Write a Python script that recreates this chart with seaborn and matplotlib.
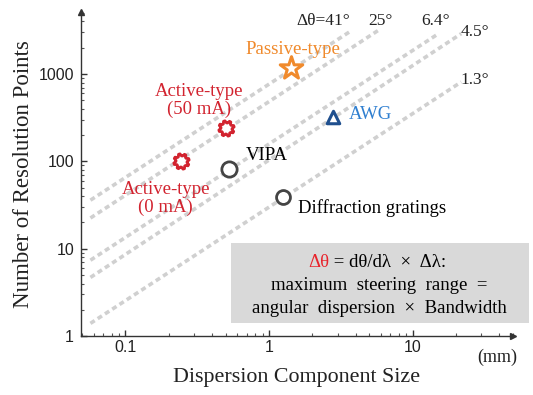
import numpy as np
import matplotlib
matplotlib.use("Agg")
import matplotlib.pyplot as plt
import seaborn as sns
import pandas as pd
from matplotlib.path import Path
from matplotlib.ticker import FixedLocator, LogLocator, NullFormatter

# ---- data ----
line_labels = ["Δθ=41°", "25°", "6.4°", "4.5°", "1.3°"]
line_x0 = [0.057, 0.057, 0.057, 0.057, 0.057]
line_y0 = [36.0, 22.5, 7.4, 4.7, 1.4]
line_x1 = [3.7, 6.0, 15.0, 21.8, 21.8]
line_y1 = [3100, 3300, 2870, 2900, 811]

pt_names = ["Active-type (0 mA)", "Active-type (50 mA)", "VIPA", "Diffraction gratings",
            "Passive-type", "AWG"]
pt_x = [0.244, 0.50, 0.526, 1.25, 1.42, 2.79]
pt_y = [100, 241, 82, 39, 1175, 323]

x_ticks = [0.1, 1, 10]
x_tick_labels = ["0.1", "1", "10"]
y_ticks = [1, 10, 100, 1000]
y_tick_labels = ["1", "10", "100", "1000"]

# ---- style ----
sns.set_theme(style="white")
plt.rcParams['font.family'] = ['Liberation Serif', 'DejaVu Serif']

fig = plt.figure(figsize=(5.33, 3.95), dpi=100)
ax = fig.add_axes([0.152, 0.149, 0.8105, 0.821])
ax.set_xscale('log')
ax.set_yscale('log')

# dashed guide lines
for x0, y0, x1, y1 in zip(line_x0, line_y0, line_x1, line_y1):
    df = pd.DataFrame({"x": [x0, x1], "y": [y0, y1]})
    sns.lineplot(data=df, x="x", y="y", ax=ax, color="#d0d0d0", lw=2.6, legend=False)
for l in ax.lines:
    l.set_dashes((1.4, 1.0))
    l.set_dash_capstyle('butt')

# gear marker
ang = np.linspace(0, 2 * np.pi, 33)[:-1]
rad = np.where(np.arange(32) % 4 < 2, 1.0, 0.72)
verts = np.column_stack([rad * np.cos(ang + np.pi / 16), rad * np.sin(ang + np.pi / 16)])
verts = np.vstack([verts, verts[0]])
gear = Path(verts, [Path.MOVETO] + [Path.LINETO] * 31 + [Path.CLOSEPOLY])

red = "#d2232f"
orange = "#f08a2c"
dark = "#444444"
navy = "#1f4f8e"
blue = "#2f7fd0"

styles = [
    (gear, red, 11, 2.0),
    (gear, red, 11, 2.0),
    ("o", dark, 11, 2.0),
    ("o", dark, 10, 2.0),
    ("*", orange, 17, 2.2),
    ("^", navy, 9, 2.2),
]
for (m, c, s, lw), x, y in zip(styles, pt_x, pt_y):
    sns.scatterplot(x=[x], y=[y], ax=ax, marker=m, s=s ** 2, facecolor="white",
                    edgecolor=c, linewidth=lw, zorder=5, legend=False)

ax.set_xlim(0.049, 50)
ax.set_ylim(1, 5150)

# annotations
fs = 13.5
ax.text(0.325, 318, "Active-type\n(50 mA)", color=red, fontsize=fs, ha="center",
        va="bottom", linespacing=1.05)
ax.text(0.191, 59, "Active-type\n(0 mA)", color=red, fontsize=fs, ha="center",
        va="top", linespacing=1.05)
ax.text(0.69, 118, "VIPA", color="black", fontsize=fs, ha="left", va="center")
ax.text(1.58, 29, "Diffraction gratings", color="black", fontsize=fs, ha="left",
        va="center")
ax.text(1.47, 1890, "Passive-type", color=orange, fontsize=fs, ha="center",
        va="center")
ax.text(3.61, 340, "AWG", color=blue, fontsize=fs, ha="left", va="center")

lab_pos = [(2.4, 4100, "center"), (6.0, 4100, "center"), (14.5, 4100, "center"),
           (21.5, 3000, "left"), (21.5, 850, "left")]
for lab, (x, y, ha) in zip(line_labels, lab_pos):
    ax.text(x, y, lab, color="#222222", fontsize=12.5, ha=ha, va="center")

# gray box
box_l, box_r, box_b, box_t = 0.543, 65, 1.41, 11.6
ax.add_patch(plt.Rectangle((box_l, box_b), box_r - box_l, box_t - box_b,
                           facecolor="#d9d9d9", edgecolor="none", zorder=1,
                           clip_on=False))
ax.text(2.62, 7.05, "Δθ", color="#e8242c", fontsize=fs, ha="right", va="center", zorder=3)
ax.text(2.62, 7.05, " = dθ/dλ  ×  Δλ:", color="black", fontsize=fs, ha="left",
        va="center", zorder=3)
ax.text(5.84, 3.84, "maximum  steering  range  =", color="black", fontsize=fs,
        ha="center", va="center", zorder=3)
ax.text(5.84, 2.09, "angular  dispersion  ×  Bandwidth", color="black", fontsize=fs,
        ha="center", va="center", zorder=3)

# axes styling
for s in ["top", "right"]:
    ax.spines[s].set_visible(False)
for s in ["left", "bottom"]:
    ax.spines[s].set_color("#333333")
    ax.spines[s].set_linewidth(1.0)
ax.plot([0], [1], marker="^", color="#333333", ms=5, transform=ax.transAxes,
        clip_on=False)
ax.plot([1], [0], marker=">", color="#333333", ms=5, transform=ax.transAxes,
        clip_on=False)

ax.xaxis.set_major_locator(FixedLocator(x_ticks))
ax.yaxis.set_major_locator(FixedLocator(y_ticks))
ax.set_xticklabels(x_tick_labels, fontfamily="Liberation Sans", fontsize=11.5)
ax.set_yticklabels(y_tick_labels, fontfamily="Liberation Sans", fontsize=11.5)
ax.xaxis.set_minor_locator(LogLocator(base=10, subs=np.arange(2, 10), numticks=20))
ax.yaxis.set_minor_locator(LogLocator(base=10, subs=np.arange(2, 10), numticks=20))
ax.xaxis.set_minor_formatter(NullFormatter())
ax.yaxis.set_minor_formatter(NullFormatter())
ax.tick_params(which="major", direction="in", length=4, width=1, color="#333333",
               bottom=True, left=True, labelcolor="#222222")
ax.tick_params(axis="x", which="major", pad=3)
ax.tick_params(axis="y", which="major", pad=5)
ax.tick_params(which="minor", direction="in", length=2, width=0.8, color="#555555",
               bottom=True, left=True)

ax.set_xlabel("Dispersion Component Size", fontsize=15.8, color="#222222", labelpad=9)
ax.set_ylabel("Number of Resolution Points", fontsize=16.5, color="#222222", labelpad=3)
fig.text(497 / 533, 1 - 357 / 395, "(mm)", fontsize=13, ha="center", va="center",
         color="#222222")

fig.savefig("out.png", dpi=100)
